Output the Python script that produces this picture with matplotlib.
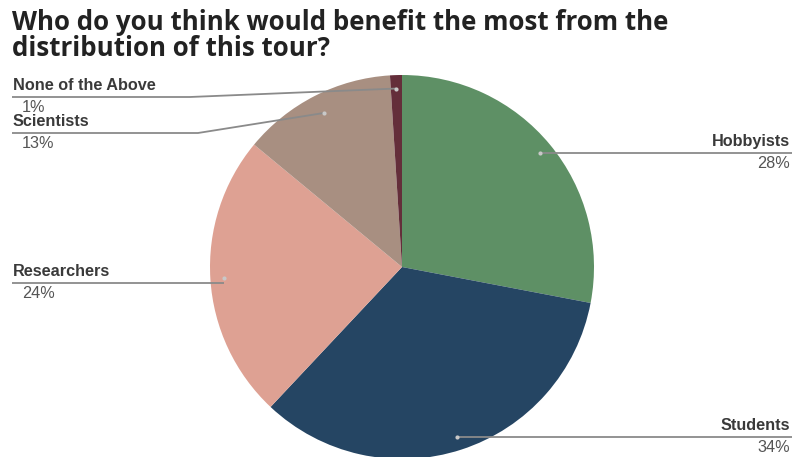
import numpy as np
import matplotlib
matplotlib.use("Agg")
import matplotlib.pyplot as plt

# Data
labels = ["Hobbyists", "Students", "Researchers", "Scientists", "None of the Above"]
shares = [28, 34, 24, 13, 1]
colors = ["#5e9065", "#254563", "#dea193", "#a88f81", "#642e3a"]

W, H = 792, 457
plt.rcParams['font.family'] = ['Liberation Sans', 'DejaVu Sans']

fig = plt.figure(figsize=(W / 100, H / 100), dpi=100)
ax = fig.add_axes([0, 0, 1, 1])

cx, cy, r = 402, H - 267, 192
wedges, _ = ax.pie(shares, colors=colors, startangle=90, counterclock=False,
                   center=(cx, cy), radius=r, frame=True,
                   wedgeprops=dict(linewidth=0))
ax.set_xlim(0, W)
ax.set_ylim(0, H)
ax.set_aspect('equal')
ax.axis('off')

# label layout: (line y in px from top, side, elbow x or None)
layout = {
    "Hobbyists": (153, "right", None),
    "Students": (437, "right", None),
    "Researchers": (283, "left", None),
    "Scientists": (133, "left", 198),
    "None of the Above": (97, "left", 190),
}

line_c = "#8a8a8a"
for w, lab, sh in zip(wedges, labels, shares):
    mid = np.deg2rad((w.theta1 + w.theta2) / 2)
    rr = 0.9 if lab == "Scientists" else 0.93
    dx, dy = cx + rr * r * np.cos(mid), cy + rr * r * np.sin(mid)
    ly, side, elbow = layout[lab]
    ly = H - ly
    if side == "right":
        xs, ys = [dx, W], [ly, ly]
        tx, ha = W - 2, "right"
        px = W - 2
    else:
        if elbow is None:
            xs, ys = [dx, 12], [ly, ly]
        else:
            xs, ys = [dx, elbow, 12], [dy, ly, ly]
        tx, ha = 13, "left"
        px = 22
    ax.plot(xs, ys, color=line_c, lw=1.3, solid_capstyle='butt')
    ax.plot([dx], [dy], 'o', ms=3, color="#c8c8c8", mec="none")
    ax.text(tx, ly + 4, lab, ha=ha, va="bottom", fontsize=11.7,
            fontweight="bold", color="#3a3a3a")
    ax.text(px, ly - 3, f"{sh}%", ha=ha, va="top", fontsize=11.7,
            color="#555555")

fig.text(12 / W, 1 - 9 / H,
         "Who do you think would benefit the most from the\ndistribution of this tour?",
         ha="left", va="top", fontsize=18.6, fontweight="bold", color="#222222",
         family=["Open Sans", "DejaVu Sans"], linespacing=0.95)

fig.savefig("out.png", dpi=100)
